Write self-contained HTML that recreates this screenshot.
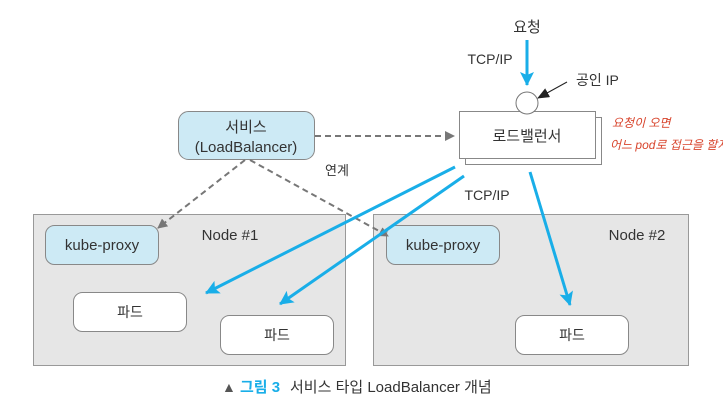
<!DOCTYPE html><html><head><meta charset="utf-8"><style>
body{margin:0;width:723px;height:405px;background:#fff;overflow:hidden;font-family:"Liberation Sans","Noto Sans CJK KR",sans-serif;color:#333}
</style></head><body>
<svg width="723" height="405" viewBox="0 0 723 405" font-family="Liberation Sans, Noto Sans CJK KR, sans-serif" font-size="14" fill="#333">
<defs>
<marker id="bb" markerWidth="14" markerHeight="14" refX="13" refY="7" orient="auto" markerUnits="userSpaceOnUse"><path d="M0,0 L14,7 L0,14 L3,7 z" fill="#19aee8"/></marker>
<marker id="g" markerWidth="10" markerHeight="10" refX="9" refY="5" orient="auto" markerUnits="userSpaceOnUse"><path d="M0,0 L10,5 L0,10 z" fill="#777"/></marker>
<marker id="k" markerWidth="12" markerHeight="10" refX="11" refY="5" orient="auto" markerUnits="userSpaceOnUse"><path d="M0,0 L12,5 L0,10 z" fill="#222"/></marker>
</defs>
<rect x="33.5" y="214.5" width="312" height="151" fill="#e6e6e6" stroke="#999"/>
<rect x="373.5" y="214.5" width="315" height="151" fill="#e6e6e6" stroke="#999"/>
<rect x="45.5" y="225.5" width="113" height="39" rx="9" fill="#cdeaf5" stroke="#888"/>
<text x="102" y="250" text-anchor="middle" font-size="15">kube-proxy</text>
<rect x="386.5" y="225.5" width="113" height="39" rx="9" fill="#cdeaf5" stroke="#888"/>
<text x="443" y="250" text-anchor="middle" font-size="15">kube-proxy</text>
<text x="230" y="240" text-anchor="middle" font-size="15">Node #1</text>
<text x="637" y="240" text-anchor="middle" font-size="15">Node #2</text>
<rect x="73.5" y="292.5" width="113" height="39" rx="9" fill="#fff" stroke="#888"/>
<text x="130" y="317" text-anchor="middle">파드</text>
<rect x="220.5" y="315.5" width="113" height="39" rx="9" fill="#fff" stroke="#888"/>
<text x="277" y="340" text-anchor="middle">파드</text>
<rect x="515.5" y="315.5" width="113" height="39" rx="9" fill="#fff" stroke="#888"/>
<text x="572" y="340" text-anchor="middle">파드</text>
<rect x="178.5" y="111.5" width="136" height="48" rx="10" fill="#cdeaf5" stroke="#888"/>
<text x="246" y="132" text-anchor="middle" font-size="15">서비스</text>
<text x="246" y="152" text-anchor="middle" font-size="15">(LoadBalancer)</text>
<text x="325" y="175" font-size="13">연계</text>
<rect x="465.5" y="117.5" width="136" height="47" fill="#fff" stroke="#888"/>
<rect x="459.5" y="111.5" width="136" height="47" fill="#fff" stroke="#888"/>
<text x="527" y="141" text-anchor="middle" font-size="15">로드밸런서</text>
<circle cx="527" cy="103" r="11" fill="#fff" stroke="#777"/>
<g stroke="#777" stroke-width="2" stroke-dasharray="6,4" fill="none">
<line x1="315" y1="136" x2="454" y2="136" marker-end="url(#g)"/>
<line x1="245" y1="160" x2="158" y2="228" marker-end="url(#g)"/>
<line x1="250" y1="160" x2="388" y2="236" marker-end="url(#g)"/>
</g>
<g stroke="#19aee8" stroke-width="3" fill="none">
<line x1="527" y1="40" x2="527" y2="85" marker-end="url(#bb)"/>
<line x1="455" y1="167" x2="206" y2="293" marker-end="url(#bb)"/>
<line x1="464" y1="176" x2="280" y2="304" marker-end="url(#bb)"/>
<line x1="530" y1="172" x2="570" y2="305" marker-end="url(#bb)"/>
</g>
<line x1="567" y1="82" x2="538" y2="98" stroke="#222" stroke-width="1" marker-end="url(#k)"/>
<text x="527" y="32" text-anchor="middle" font-size="15">요청</text>
<text x="490" y="64" text-anchor="middle">TCP/IP</text>
<text x="576" y="85" font-size="14">공인 IP</text>
<text x="487" y="200" text-anchor="middle">TCP/IP</text>
<text x="612" y="127" font-size="12" fill="#d8442c" font-style="italic">요청이 오면</text>
<text x="610" y="149" font-size="12" fill="#d8442c" font-style="italic">어느 pod로 접근을 할지</text>
<text x="222" y="392" font-size="14" fill="#555">▲</text>
<text x="240" y="392" font-size="15" fill="#19aee8" font-weight="bold">그림 3</text>
<text x="290" y="392" font-size="15" fill="#333">서비스 타입 LoadBalancer 개념</text>
</svg>
</body></html>
